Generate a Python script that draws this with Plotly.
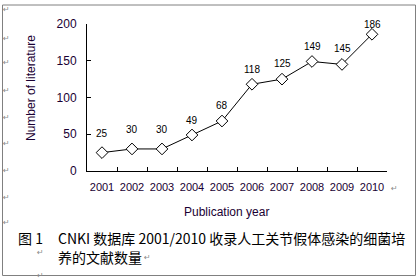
import plotly.graph_objects as go

years = ["2001", "2002", "2003", "2004", "2005", "2006", "2007", "2008", "2009", "2010"]
counts = [25, 30, 30, 49, 68, 118, 125, 149, 145, 186]
y_ticks = [0, 50, 100, 150, 200]
label_dy = [18, 18, 18, 13, 15, 14, 15, 14, 15, 9]

x_title = "Publication year"
y_title = "Number of literature"
caption_no = "图 1"
caption_l1 = "CNKI 数据库 2001/2010 收录人工关节假体感染的细菌培"
caption_l2 = "养的文献数量"

W, H = 420, 280
L, R, T, B = 87, 387, 24, 171


def px(x):
    return (x - L) / (R - L)


def py(y):
    return (B - y) / (B - T)


FONT = "Liberation Sans, Arial, sans-serif"
CJK = "Noto Sans CJK SC, sans-serif"
GRAY = "#8a8a8a"
TXT = "#1a0033"

fig = go.Figure()
fig.add_trace(go.Scatter(
    x=years, y=counts, mode="lines+markers",
    line=dict(color="black", width=1),
    marker=dict(symbol="diamond", size=9, color="white",
                line=dict(color="black", width=1)),
    hoverinfo="skip", showlegend=False,
))

annotations = []
for i, (v, dy) in enumerate(zip(counts, label_dy)):
    annotations.append(dict(x=i, y=v, xref="x", yref="y", text=str(v),
                            showarrow=False, yshift=dy + 1,
                            xanchor="center", yanchor="middle",
                            font=dict(family=FONT, size=10, color="black")))

annotations.append(dict(x=px(226.5), y=py(212), xref="paper", yref="paper",
                        text=x_title, showarrow=False, xanchor="center", yanchor="middle",
                        font=dict(family=FONT, size=12, color=TXT)))
annotations.append(dict(x=px(31), y=py(88), xref="paper", yref="paper",
                        text=y_title, showarrow=False, textangle=-90,
                        xanchor="center", yanchor="middle",
                        font=dict(family=FONT, size=12, color=TXT)))
annotations.append(dict(x=px(16), y=py(238), xref="paper", yref="paper",
                        text=caption_no, showarrow=False, xanchor="left", yanchor="middle",
                        font=dict(family=CJK, size=14, color="black")))
annotations.append(dict(x=px(56), y=py(238), xref="paper", yref="paper",
                        text=caption_l1, showarrow=False, xanchor="left", yanchor="middle",
                        font=dict(family=CJK, size=14, color="black")))
annotations.append(dict(x=px(56), y=py(257), xref="paper", yref="paper",
                        text=caption_l2, showarrow=False, xanchor="left", yanchor="middle",
                        font=dict(family=CJK, size=14, color="black")))

# paragraph marks
marks = [(6, 9), (6, 38), (6, 63), (6, 90), (6, 117), (6, 143), (6, 170),
         (6, 197), (6, 222), (40, 252), (40, 275), (147, 257), (394, 188)]
for mx, my in marks:
    annotations.append(dict(x=px(mx), y=py(my), xref="paper", yref="paper",
                            text="↵", showarrow=False, xanchor="center", yanchor="middle",
                            font=dict(family="DejaVu Sans", size=8, color=GRAY)))

shapes = [dict(type="rect", xref="paper", yref="paper",
               x0=px(2.5), x1=px(415.5), y0=py(5), y1=py(275.5),
               line=dict(color="#808080", width=1), fillcolor="rgba(0,0,0,0)",
               layer="below")]

fig.update_layout(
    width=W, height=H,
    margin=dict(l=L, r=W - R, t=T, b=H - B, pad=0),
    paper_bgcolor="white", plot_bgcolor="white",
    annotations=annotations, shapes=shapes,
    xaxis=dict(type="category", categoryorder="array", categoryarray=years,
               range=[-0.5, len(years) - 0.5],
               showline=True, linecolor="black", linewidth=1,
               ticks="inside", ticklen=4, tickcolor="black", tickson="boundaries",
               tickangle=0, showgrid=False, zeroline=False, ticklabelstandoff=6,
               tickfont=dict(family=FONT, size=11, color=TXT)),
    yaxis=dict(range=[0, 200], tickvals=y_ticks,
               showline=True, linecolor="black", linewidth=1,
               ticks="inside", ticklen=4, tickcolor="black",
               showgrid=False, zeroline=False, ticklabelstandoff=7,
               tickfont=dict(family=FONT, size=12, color=TXT)),
)

fig.write_html("out.html", config={"displayModeBar": False},
               post_script="document.body.style.margin='0';document.body.style.padding='0';")
